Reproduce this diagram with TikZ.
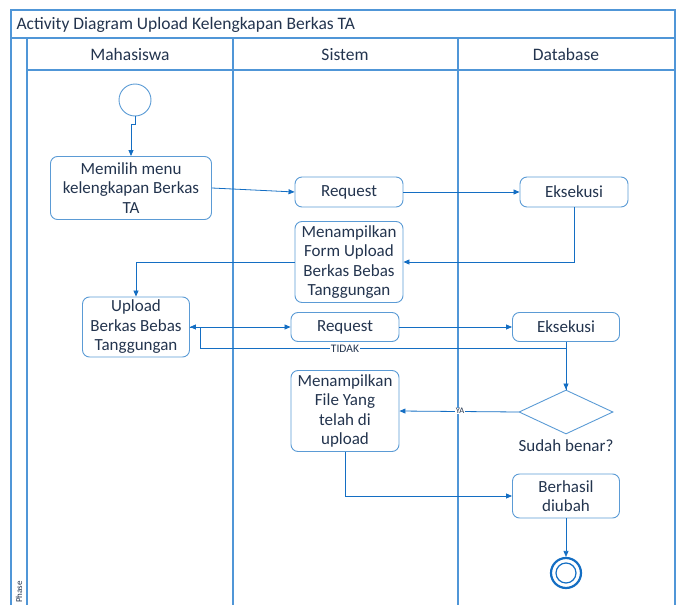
\documentclass[tikz,border=0pt]{standalone}
\usepackage{fontspec}
\setmainfont{Carlito}
\usetikzlibrary{arrows.meta,shapes.geometric}
\definecolor{lanec}{RGB}{80,150,215}
\definecolor{boxc}{RGB}{91,155,213}
\definecolor{lnc}{RGB}{20,110,195}
\definecolor{txt}{RGB}{35,52,78}
\begin{document}
\begin{tikzpicture}[x=1pt,y=-1pt,
  every node/.style={text=txt},
  lanel/.style={draw=lanec,line width=1.1pt},
  actbox/.style={draw=boxc,line width=0.9pt,rounded corners=7pt,inner sep=0pt,align=center,
     font=\fontsize{17}{19.5}\selectfont},
  arr/.style={draw=lnc,line width=0.8pt,-{Triangle[length=6pt,width=5pt]}},
  hdr/.style={font=\fontsize{17.5}{20}\selectfont,anchor=base},
  lbl/.style={fill=white,inner sep=0.5pt}]
\useasboundingbox (0,0) rectangle (678,605);
% frame and lanes
\draw[lanel] (11,625) -- (11,10) -- (675,10) -- (675,625);
\draw[lanel] (11,38) -- (675,38);
\draw[lanel] (27,38) -- (27,625);
\draw[lanel] (27,70) -- (675,70);
\draw[lanel] (233,38) -- (233,625);
\draw[lanel] (458,38) -- (458,625);
\node[hdr,anchor=base west] (title) at (13,30) {Activity Diagram Upload Kelengkapan Berkas TA};
\node[hdr] (h1) at (130,60) {Mahasiswa};
\node[hdr] (h2) at (345,60) {Sistem};
\node[hdr] (h3) at (566,60) {Database};
\node[rotate=90,anchor=west,font=\fontsize{9}{10}\selectfont,inner sep=0pt] (phase) at (19,603) {Phase};
% nodes
\node[draw=boxc,line width=0.9pt,circle,minimum size=32pt,inner sep=0pt] (start) at (135,100) {};
\node[actbox,minimum width=161pt,minimum height=63pt] (mem) at (131,188) {Memilih menu\\kelengkapan Berkas\\TA};
\node[actbox,minimum width=108pt,minimum height=30pt] (req1) at (349,192) {Request};
\node[actbox,minimum width=108pt,minimum height=30pt] (eks1) at (574,192) {Eksekusi};
\node[actbox,minimum width=108pt,minimum height=81pt] (form) at (349,262) {Menampilkan\\Form Upload\\Berkas Bebas\\Tanggungan};
\node[actbox,minimum width=107pt,minimum height=60pt] (up) at (136,327) {Upload\\Berkas Bebas\\Tanggungan};
\node[actbox,minimum width=108pt,minimum height=29pt] (req2) at (345,327) {Request};
\node[actbox,minimum width=107pt,minimum height=29pt] (eks2) at (566,327) {Eksekusi};
\node[draw=boxc,line width=0.9pt,diamond,minimum width=94pt,minimum height=44pt,inner sep=0pt] (dia) at (566,412) {};
\node[font=\fontsize{17}{19}\selectfont] (dlab) at (566,446) {Sudah benar?};
\node[actbox,minimum width=108pt,minimum height=81pt] (file) at (345,411) {Menampilkan\\File Yang\\telah di\\upload};
\node[actbox,minimum width=107pt,minimum height=44pt] (ber) at (566,496) {Berhasil\\diubah};
\node[draw=lnc,line width=2.2pt,circle,minimum size=30pt,inner sep=0pt] (end) at (566,573) {};
\node[draw=lnc,line width=1.2pt,circle,minimum size=20pt,inner sep=0pt] (endin) at (566,573) {};
% connectors
\draw[arr] (start.south) -- ++(0,8) -| (mem.north);
\draw[arr] (mem.east) -- (req1.west);
\draw[arr] (req1.east) -- (eks1.west);
\draw[arr] (eks1.south) |- (form.east);
\draw[arr] (form.west) -| (up.north);
\draw[arr] (up.east) -- (req2.west);
\draw[arr] (req2.east) -- (eks2.west);
\draw[arr] (eks2.south) -- (dia.north);
\coordinate (t1) at (200,348);
\draw[arr] (dia.north) |- (t1) |- (up.east);
\node[lbl,font=\fontsize{11.5}{12}\selectfont] (tidak) at (345,349) {TIDAK};
\draw[arr] (dia.west) -- (file.east);
\node[lbl,font=\fontsize{8.5}{9}\selectfont] (ya) at (460,411) {YA};
\draw[arr] (file.south) |- (ber.west);
\draw[arr] (ber.south) -- (end.north);
\end{tikzpicture}
\end{document}
